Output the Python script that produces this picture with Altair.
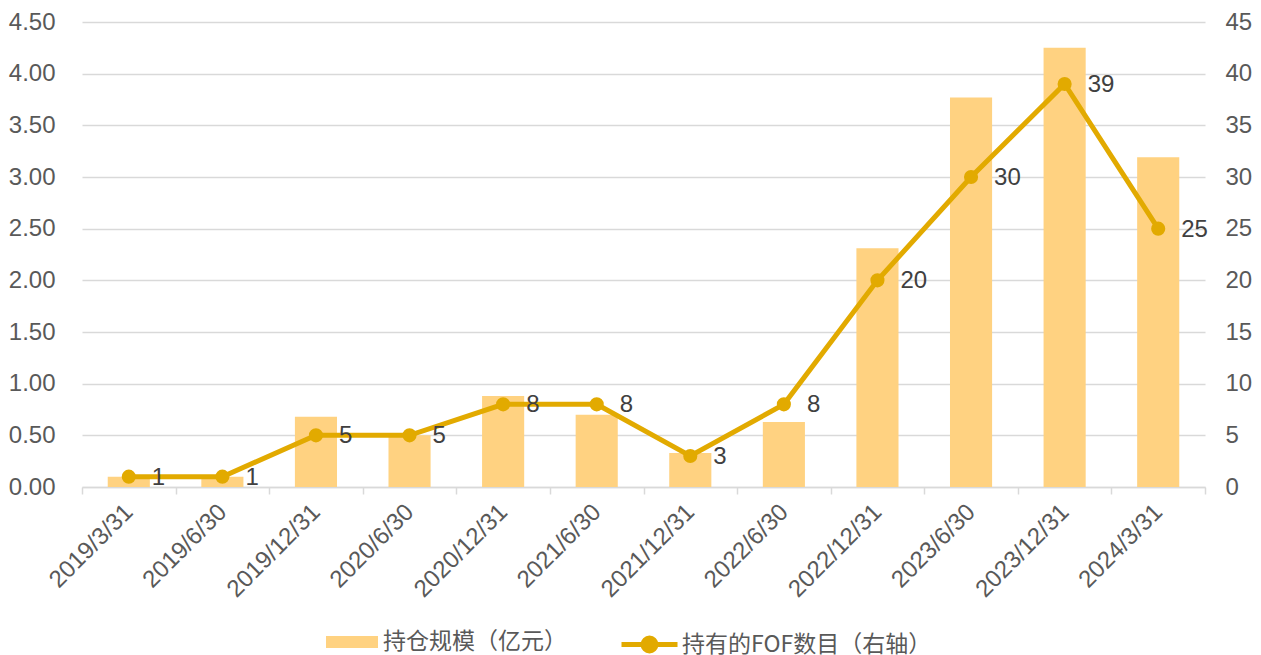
import altair as alt
import pandas as pd

dates = ["2019/3/31", "2019/6/30", "2019/12/31", "2020/6/30", "2020/12/31", "2021/6/30",
         "2021/12/31", "2022/6/30", "2022/12/31", "2023/6/30", "2023/12/31", "2024/3/31"]
scale_vals = [0.10, 0.10, 0.68, 0.50, 0.88, 0.70, 0.33, 0.63, 2.31, 3.77, 4.25, 3.19]
fof_counts = [1, 1, 5, 5, 8, 8, 3, 8, 20, 30, 39, 25]

bar_name = "持仓规模（亿元）"
line_name = "持有的FOF数目（右轴）"

df = pd.DataFrame({"date": dates, "scale": scale_vals, "count": fof_counts,
                   "bar_s": bar_name, "line_s": line_name})

BAR_COLOR = "#FFD281"
LINE_COLOR = "#E2AA00"
GRID = "#D9D9D9"
LABEL = "#595959"
FONT = "Liberation Sans, Arial, Noto Sans CJK SC"
LEG_FONT = "Noto Sans CJK SC"
FS = 24

x_enc = alt.X("date:N", sort=dates, title=None,
              scale=alt.Scale(paddingInner=0, paddingOuter=0),
              axis=alt.Axis(labelAngle=-45, labelAlign="right", labelBaseline="middle",
                            labelFontSize=FS, labelColor=LABEL, labelFont=FONT,
                            labelPadding=14, tickBand="extent", tickSize=7,
                            tickColor=GRID, domainColor=GRID, tickWidth=1.5,
                            domainWidth=1.5, grid=False))

bars = alt.Chart(df).mark_bar(width=alt.RelativeBandSize(0.45)).encode(
    x=x_enc,
    y=alt.Y("scale:Q", title=None,
            scale=alt.Scale(domain=[0, 4.5], nice=False),
            axis=alt.Axis(values=[i * 0.5 for i in range(10)], format=".2f",
                          labelFontSize=FS, labelColor=LABEL, labelFont=FONT,
                          labelPadding=27, ticks=False, domain=False,
                          grid=True, gridColor=GRID, gridWidth=1.5)),
    fill=alt.Fill("bar_s:N", title=None,
                  scale=alt.Scale(domain=[bar_name], range=[BAR_COLOR]),
                  legend=alt.Legend(orient="none", legendX=244, legendY=594,
                                    symbolType="M-1,-0.23L1,-0.23L1,0.23L-1,0.23Z",
                                    symbolSize=2704, symbolStrokeWidth=0,
                                    labelFontSize=23, labelColor=LABEL, labelFont=LEG_FONT,
                                    labelOffset=5, labelLimit=500)),
)

y_right = alt.Y("count:Q", title=None,
                scale=alt.Scale(domain=[0, 45], nice=False),
                axis=alt.Axis(orient="right", values=list(range(0, 50, 5)),
                              labelFontSize=FS, labelColor=LABEL, labelFont=FONT,
                              labelPadding=20, ticks=False, domain=False, grid=False))

line = alt.Chart(df).mark_line(strokeWidth=5).encode(
    x=alt.X("date:N", sort=dates),
    y=y_right,
    stroke=alt.Stroke("line_s:N", title=None,
                      scale=alt.Scale(domain=[line_name], range=[LINE_COLOR]),
                      legend=alt.Legend(orient="none", legendX=537, legendY=592,
                                        symbolType="M-1,0L1,0M0.23,0A0.23,0.23 0 1,1 -0.23,0A0.23,0.23 0 1,1 0.23,0",
                                        symbolSize=3136, symbolStrokeWidth=5,
                                        symbolFillColor=LINE_COLOR,
                                        labelFontSize=23, labelColor=LABEL, labelFont=LEG_FONT,
                                        labelOffset=2, labelLimit=500)),
)

points = alt.Chart(df).mark_point(filled=True, size=200, opacity=1, color=LINE_COLOR).encode(
    x=alt.X("date:N", sort=dates),
    y=y_right,
)

labels = alt.Chart(df).mark_text(align="left", baseline="middle", dx=23, dy=1,
                                 fontSize=FS, color="#404040", font=FONT).encode(
    x=alt.X("date:N", sort=dates),
    y=y_right,
    text=alt.Text("count:Q"),
)

right = alt.layer(line, points, labels)

chart = alt.layer(bars, right).resolve_scale(
    y="independent", fill="independent", stroke="independent"
).properties(
    width=1123, height=465,
    autosize=alt.AutoSizeParams(type="none"),
    padding={"left": 74, "top": 14, "right": 48, "bottom": 168},
).configure(background="white").configure_view(stroke=None)

chart.save("out.html", embed_options={"renderer": "svg", "actions": False})
